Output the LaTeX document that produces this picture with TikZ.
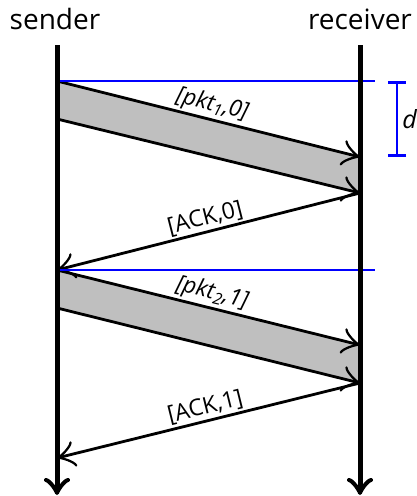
\documentclass[tikz,border=0pt]{standalone}
\usepackage{fontspec}
\setmainfont{Open Sans}
\usetikzlibrary{positioning,arrows.meta}

\tikzset{
  timeline/.style={line width=5pt, -{Classical TikZ Rightarrow[length=17pt,width=26pt]}},
  msg/.style={line width=2.8pt, -{Classical TikZ Rightarrow[length=18pt,width=26pt]}},
  packet/.style={fill=gray!50, draw=none},
  mark line/.style={blue, line width=2.8pt},
  lbl/.style={font=\fontsize{23}{27}\selectfont, midway, above, sloped, inner sep=2pt}
}

\begin{document}
\begin{tikzpicture}[x=1pt,y=-1pt]
  \useasboundingbox (0,0) rectangle (417,496);
  \node (sender) at (55,19) {\fontsize{28}{32}\selectfont sender};
  \node (receiver) at (360,19) {\fontsize{28}{32}\selectfont receiver};
  % events on the sender side
  \coordinate (s0) at (57,45);
  \coordinate (s1) at (57,81);
  \coordinate (s2) at (57,119);
  \coordinate (s3) at (57,270);
  \coordinate (s4) at (57,308);
  \coordinate (s5) at (57,458);
  \coordinate (sE) at (57,495);
  % events on the receiver side
  \coordinate (r0) at (360,45);
  \coordinate (r1) at (360,157);
  \coordinate (r2) at (360,193);
  \coordinate (r3) at (360,345);
  \coordinate (r4) at (360,383);
  \coordinate (rE) at (360,495);
  \coordinate (b1) at (375,81);
  \coordinate (b2) at (375,270);

  \fill[packet] (s1) -- (r1) -- (r2) -- (s2) -- cycle;
  \fill[packet] (s3) -- (r3) -- (r4) -- (s4) -- cycle;

  \draw[msg] (s1) -- (r1) node[lbl] {\itshape [pkt\textsubscript{1},0]};
  \draw[msg] (s2) -- (r2);
  \draw[msg] (r2) -- (s3) node[lbl] {[ACK,0]};
  \draw[msg] (s3) -- (r3) node[lbl] {\itshape [pkt\textsubscript{2},1]};
  \draw[msg] (s4) -- (r4);
  \draw[msg] (r4) -- (s5) node[lbl] {[ACK,1]};

  \draw[mark line] (s1) -- (b1);
  \draw[mark line] (s3) -- (b2);
  \draw[mark line, {Bar[width=18pt]}-{Bar[width=18pt]}] (397,81) -- (397,157)
    node[midway, right, black, inner sep=4pt] (d) {\fontsize{25}{29}\selectfont\itshape d};

  \draw[timeline] (s0) -- (sE);
  \draw[timeline] (r0) -- (rE);
\end{tikzpicture}
\end{document}
